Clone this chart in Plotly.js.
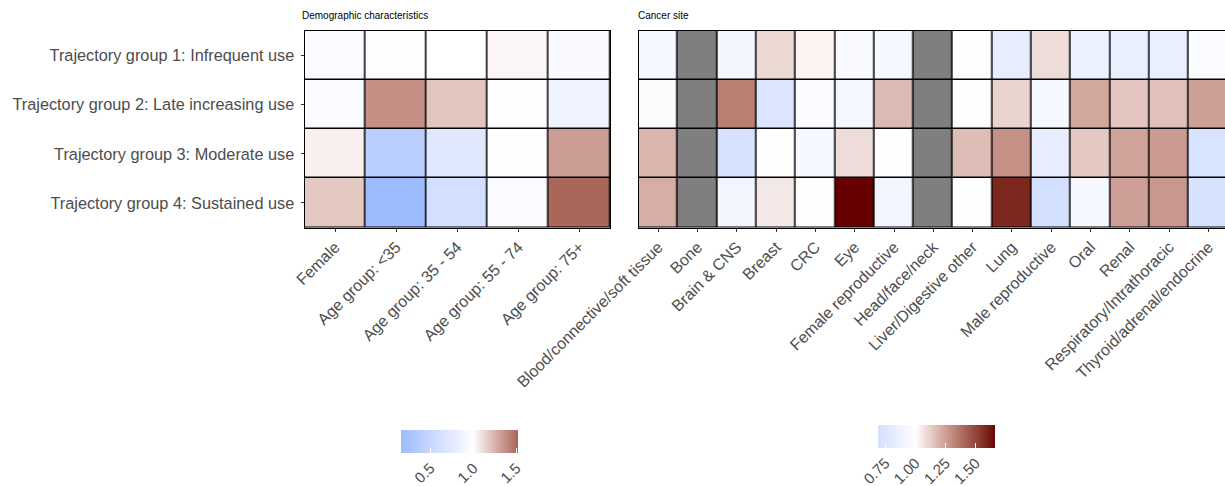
<!DOCTYPE html>
<html><head><meta charset="utf-8">
<script src="https://cdn.plot.ly/plotly-3.0.1.min.js"></script>
<style>html,body{margin:0;padding:0;background:#fff}#chart{width:1225px;height:486px}</style>
</head><body><div id="chart"></div>
<script>
const groups = ["Trajectory group 1: Infrequent use","Trajectory group 2: Late increasing use","Trajectory group 3: Moderate use","Trajectory group 4: Sustained use"];
const demoCategories = ["Female","Age group: <35","Age group: 35 - 54","Age group: 55 - 74","Age group: 75+"];
const demoValues = [
  [0.97, 1.01, 1.00, 1.03, 0.94],
  [0.97, 1.37, 1.19, 0.98, 0.86],
  [1.05, 0.40, 0.71, 0.99, 1.33],
  [1.18, 0.16, 0.60, 0.95, 1.52]
];
const siteCategories = ["Blood/connective/soft tissue","Bone","Brain & CNS","Breast","CRC","Eye","Female reproductive","Head/face/neck","Liver/Digestive other","Lung","Male reproductive","Oral","Renal","Respiratory/Intrathoracic","Thyroid/adrenal/endocrine"];
const siteValues = [
  [0.93, null, 0.91, 1.10, 1.03, 0.95, 0.93, null, 0.99, 0.83, 1.09, 0.87, 0.84, 0.84, 0.97],
  [1.01, null, 1.34, 0.75, 0.97, 0.93, 1.18, null, 1.005, 1.11, 0.93, 1.23, 1.15, 1.16, 1.25],
  [1.19, null, 0.72, 1.00, 0.93, 1.09, 0.99, null, 1.17, 1.29, 0.83, 1.14, 1.24, 1.26, 0.73],
  [1.21, null, 0.91, 1.06, 0.99, 1.66, 0.90, null, 1.00, 1.58, 0.69, 0.93, 1.25, 1.27, 0.72]
];
const demoTicks = [0.5, 1.0, 1.5];
const demoTickText = ["0.5", "1.0", "1.5"];
const siteTicks = [0.75, 1.0, 1.25, 1.5];
const siteTickText = ["0.75", "1.00", "1.25", "1.50"];

// ---- Lab interpolation (gradient2-like colour scale) ----
function hexToRgb(h){h=h.replace('#','');return [0,2,4].map(i=>parseInt(h.substr(i,2),16));}
function toLin(c){c/=255;return c<=0.04045?c/12.92:Math.pow((c+0.055)/1.055,2.4);}
function fromLin(c){c=c<=0.0031308?12.92*c:1.055*Math.pow(c,1/2.4)-0.055;return Math.max(0,Math.min(255,Math.round(c*255)));}
const WX=0.95047,WY=1,WZ=1.08883;
function f(t){return t>0.008856?Math.cbrt(t):7.787*t+16/116;}
function fi(t){return t>0.206893?t*t*t:(t-16/116)/7.787;}
function rgbToLab(rgb){const [r,g,b]=rgb.map(toLin);
  const X=(0.4124*r+0.3576*g+0.1805*b)/WX,Y=(0.2126*r+0.7152*g+0.0722*b)/WY,Z=(0.0193*r+0.1192*g+0.9505*b)/WZ;
  const fx=f(X),fy=f(Y),fz=f(Z);return [116*fy-16,500*(fx-fy),200*(fy-fz)];}
function labToRgb(lab){const fy=(lab[0]+16)/116,fx=fy+lab[1]/500,fz=fy-lab[2]/200;
  const X=fi(fx)*WX,Y=fi(fy)*WY,Z=fi(fz)*WZ;
  const r=3.2406*X-1.5372*Y-0.4986*Z,g=-0.9689*X+1.8758*Y+0.0415*Z,b=0.0557*X-0.2040*Y+1.0570*Z;
  return 'rgb('+fromLin(r)+','+fromLin(g)+','+fromLin(b)+')';}
const LOW=rgbToLab(hexToRgb('#9bbcff')), MID=rgbToLab(hexToRgb('#ffffff')), HIGH=rgbToLab(hexToRgb('#670000'));
function grad2(v,D){const t=Math.min(1,Math.abs(v-1)/D);const e=v<1?LOW:HIGH;
  return labToRgb([0,1,2].map(i=>MID[i]+(e[i]-MID[i])*t));}
function buildScale(zmin,zmax){const D=Math.max(Math.abs(zmin-1),Math.abs(zmax-1));const N=60,out=[];
  for(let i=0;i<=N;i++){const v=zmin+(zmax-zmin)*i/N;out.push([i/N,grad2(v,D)]);}return out;}
function rangeOf(m){const a=m.flat().filter(v=>v!==null);return [Math.min(...a),Math.max(...a)];}

const font='Liberation Sans, Arial, sans-serif';
const axisText={family:font,size:16,color:'#4d4d4d'};
const yText={family:font,size:16.3,color:'#4d4d4d'};
const cbText={family:font,size:15,color:'#4d4d4d'};
const [dmin,dmax]=rangeOf(demoValues);
const [smin,smax]=rangeOf(siteValues);
const naZ=siteValues.map(r=>r.map(v=>v===null?1:null));

function cbar(x,y,tv,tt){return {orientation:'h',x:x,xanchor:'center',y:y,yanchor:'top',len:117,lenmode:'pixels',
  thickness:23,thicknessmode:'pixels',xpad:0,ypad:0,outlinewidth:0,tickmode:'array',tickvals:tv,ticktext:tt,
  tickangle:-45,ticks:'inside',ticklen:5,tickcolor:'#ffffff',tickfont:cbText,ticklabelstandoff:-3};}

const data=[
  {type:'heatmap',x:demoCategories,y:groups,z:demoValues,xaxis:'x',yaxis:'y',zmin:dmin,zmax:dmax,
   colorscale:buildScale(dmin,dmax),xgap:1.5,ygap:1.5,hoverinfo:'skip',
   colorbar:cbar(459.5/1225,1-430/486,demoTicks,demoTickText)},
  {type:'heatmap',x:siteCategories,y:groups,z:siteValues,xaxis:'x2',yaxis:'y2',zmin:smin,zmax:smax,
   colorscale:buildScale(smin,smax),xgap:1.5,ygap:1.5,hoverinfo:'skip',
   colorbar:cbar(936.5/1225,1-425/486,siteTicks,siteTickText)},
  {type:'heatmap',x:siteCategories,y:groups,z:naZ,xaxis:'x2',yaxis:'y2',zmin:0,zmax:1,
   colorscale:[[0,'#7f7f7f'],[1,'#7f7f7f']],showscale:false,xgap:1.5,ygap:1.5,hoverinfo:'skip'}
];
const ydom=[1-227.5/486,1-31/486];
const xbase={type:'category',tickangle:-45,ticks:'outside',ticklen:3,tickcolor:'#333',tickwidth:1,tickfont:axisText,
  showline:true,linecolor:'#000',linewidth:1,mirror:true,showgrid:false,zeroline:false,fixedrange:true,automargin:false};
const layout={
  width:1225,height:486,margin:{l:0,r:0,t:0,b:0,pad:0,autoexpand:false},paper_bgcolor:'#ffffff',plot_bgcolor:'#000000',
  font:{family:font},showlegend:false,
  xaxis:Object.assign({},xbase,{domain:[304.5/1225,610/1225],anchor:'y',range:[-0.5,4.5]}),
  yaxis:{domain:ydom,anchor:'x',type:'category',range:[3.5,-0.5],ticks:'outside',ticklen:3,tickcolor:'#333',
    tickfont:yText,ticklabelstandoff:3,showline:true,linecolor:'#000',linewidth:1,mirror:true,showgrid:false,zeroline:false,fixedrange:true,automargin:false},
  xaxis2:Object.assign({},xbase,{domain:[638.6/1225,1],anchor:'y2',range:[-0.5,14.42]}),
  yaxis2:{domain:ydom,anchor:'x2',type:'category',range:[3.5,-0.5],showticklabels:false,ticks:'',showline:true,
    linecolor:'#000',linewidth:1,mirror:false,showgrid:false,zeroline:false,fixedrange:true},
  annotations:[
    {text:'Demographic characteristics',xref:'paper',yref:'paper',x:300/1225,y:1-16/486,xanchor:'left',yanchor:'middle',
     showarrow:false,font:{family:font,size:10,color:'#000'}},
    {text:'Cancer site',xref:'paper',yref:'paper',x:636/1225,y:1-16/486,xanchor:'left',yanchor:'middle',
     showarrow:false,font:{family:font,size:10,color:'#000'}}
  ]
};
Plotly.newPlot('chart',data,layout,{displayModeBar:false,staticPlot:true});
</script></body></html>
